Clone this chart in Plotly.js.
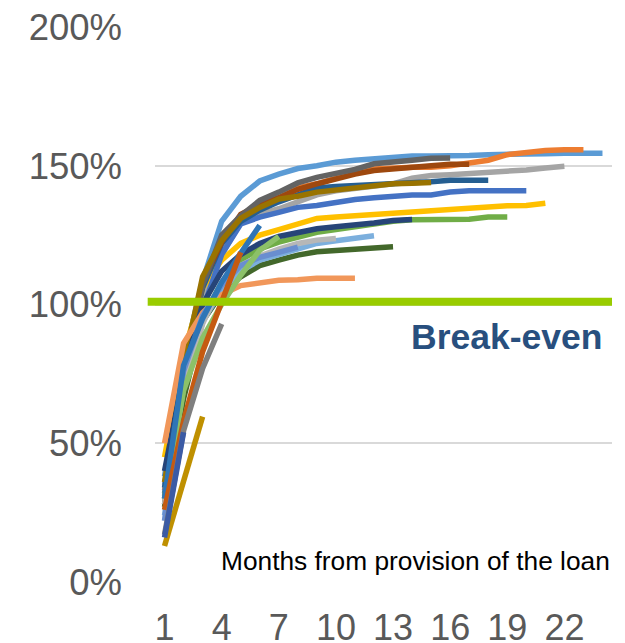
<!DOCTYPE html>
<html>
<head>
<meta charset="utf-8">
<script src="https://cdn.plot.ly/plotly-3.0.1.min.js"></script>
<style>html,body{margin:0;padding:0;background:#fff;}#chart{width:625px;height:643px;}</style>
</head>
<body>
<div id="chart"></div>
<script>
// Months from provision of the loan
const months = [1,2,3,4,5,6,7,8,9,10,11,12,13,14,15,16,17,18,19,20,21,22,23,24];
const xTicks = [1,4,7,10,13,16,19,22];
const yTicks = [0,50,100,150,200];
const breakEven = 101;

// Cumulative repayment ratio (%) by cohort, one array per cohort
const c24 = [38,80,108.5,130,139,144.5,147,149,150,151.3,152,152.5,153,153.5,153.5,153.5,153.7,154,154,154.2,154.3,154.5,154.5,154.5];
const c23 = [33,75,102,120,130,135.5,138.5,142,143.5,145.5,147.5,148.8,149.2,149.5,149.5,150,151,152,154,154.8,155.5,155.8,155.8];
const c22 = [35,76,103,118,129.5,132.5,134.5,137,139.5,141,141.8,142.3,143.5,145.5,146.5,146.8,147.2,147.5,148.3,148.5,149.2,149.8];
const c21 = [45,82,106,116,122,125,127,129,131,131.5,132,132.5,132.8,133.2,133.6,134.2,134.6,135.3,135.6,135.7,136.5];
const c20 = [32,74,98,118,129,131.5,133.2,135,135.7,136.9,137.8,138.5,139,139.5,139.5,140.5,141,141,141,141];
const c19 = [31,68,95,108,116,120,122.5,124.5,126,127,128,129,130,130.5,130.5,130.5,130.7,131.5,131.5];
const c18 = [34,76,106,122,130,134,137,139.5,142,142.5,142.8,143,143.4,143.8,144.2,144.8,144.8,144.8];
const c17 = [28,72,108,122.5,132.5,136,138.5,141.5,143.5,145.5,147,148.3,149,149.5,150,150.5,150.5];
const c16 = [30,74,107,125,132,137.5,140.5,143.8,145.8,147,148.7,150.7,151.2,152,152.7,152.8];
const c15 = [36,78,110,123,131,135,138,139,140.5,141.3,142.2,142.8,143.5,143.7,144];
const c14 = [40,75,100,112,118,122,124.5,126,127.3,128,128.5,129.4,130.3,130.6];
const c13 = [27,66,94,104,110,114,116,117.8,119,119.5,120,120.5,120.8];
const c12 = [24,72,94,105,112,116,118,120,122,123,123.8,124.8];
const c11 = [50,86,97,103.5,106.8,107.7,108.7,108.9,109.5,109.5,109.5];
const c10 = [28,70,93,108,114,117.5,120,122,123.2,123.8];
const c8 = [22,76,96,107,114,117,118.8,120.7];
const c7 = [30,69,88,100,110.5,119.5,124.5];
const c6 = [30,78,95,108,118.5,128.5];
const c5 = [26,58,83,101,118.8];
const c4 = [17,54.5,77,93];
const c3 = [13,37,59.6];
const c2 = [16,54];

const cohorts = [c24,c23,c22,c21,c20,c19,c18,c17,c16,c15,c14,c13,c12,c11,c10,c8,c7,c6,c5,c4,c3,c2];
const colors = ['#5B9BD5','#ED7D31','#A5A5A5','#FFC000','#4472C4','#70AD47','#255E91','#9E480E','#636363','#997300','#264478','#43682B','#7CAFDD','#F1975A','#B7B7B7','#698ED0','#8CC168','#2E75B6','#C55A11','#7F7F7F','#BF9000','#3B5BA5'];

const traces = cohorts.map((vals, i) => ({
  type: 'scatter',
  mode: 'lines',
  x: months.slice(0, vals.length),
  y: vals,
  line: {color: colors[i], width: 5.5},
  hoverinfo: 'skip',
  showlegend: false
}));

const font = 'Arial, "Liberation Sans", sans-serif';
const layout = {
  width: 625,
  height: 643,
  margin: {l: 155, r: 13, t: 27, b: 61},
  paper_bgcolor: '#ffffff',
  plot_bgcolor: '#ffffff',
  showlegend: false,
  xaxis: {
    range: [0.5, 24.5],
    tickvals: xTicks,
    ticktext: xTicks.map(String),
    showgrid: false,
    zeroline: false,
    showline: false,
    ticks: '',
    ticklabelstandoff: 21,
    tickfont: {family: font, size: 36, color: '#595959'}
  },
  yaxis: {
    range: [0, 200],
    tickvals: yTicks,
    ticktext: yTicks.map(v => v + '%'),
    showgrid: true,
    gridcolor: '#D9D9D9',
    gridwidth: 2,
    zeroline: false,
    showline: false,
    ticks: '',
    ticklabelstandoff: 32,
    tickfont: {family: font, size: 36.5, color: '#595959'}
  },
  shapes: [{
    type: 'line', xref: 'paper', yref: 'y',
    x0: -0.016, x1: 1.0, y0: breakEven, y1: breakEven,
    line: {color: '#99CC00', width: 8},
    layer: 'above'
  }],
  annotations: [
    {text: '<b>Break-even</b>', xref: 'paper', yref: 'y', x: 0.983, y: 88.3,
     xanchor: 'right', yanchor: 'middle', showarrow: false,
     font: {family: font, size: 35.5, color: '#284F7E'}},
    {text: 'Months from provision of the loan', xref: 'paper', yref: 'y', x: 1.0, y: 7.6,
     xanchor: 'right', yanchor: 'middle', showarrow: false,
     font: {family: font, size: 26.3, color: '#000000'}}
  ]
};

Plotly.newPlot('chart', traces, layout, {displayModeBar: false, staticPlot: true});
</script>
</body>
</html>
